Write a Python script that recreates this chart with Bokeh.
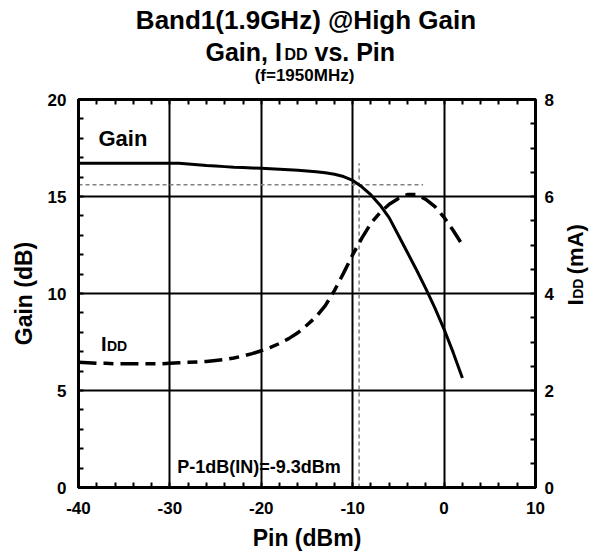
import math
from bokeh.plotting import figure
from bokeh.layouts import column, row
from bokeh.models import Range1d, LinearAxis, Label, FixedTicker
from bokeh.core.properties import value
from bokeh.embed import file_html
from bokeh.resources import INLINE

# ---------------- data ----------------
pin = list(range(-40, 3))
gain = [16.72, 16.72, 16.72, 16.72, 16.72, 16.72, 16.72, 16.72, 16.72, 16.72,
        16.72, 16.71, 16.68, 16.64, 16.60, 16.57, 16.54, 16.51, 16.49, 16.47,
        16.45, 16.43, 16.41, 16.38, 16.35, 16.32, 16.27, 16.22, 16.15, 16.03,
        15.83, 15.50, 15.08, 14.55, 13.90, 13.00, 12.10, 11.20, 10.25, 9.25,
        8.15, 6.95, 5.65]
idd = [2.58, 2.57, 2.56, 2.56, 2.55, 2.55, 2.55, 2.55, 2.55, 2.55,
       2.56, 2.57, 2.58, 2.59, 2.60, 2.62, 2.64, 2.67, 2.71, 2.76,
       2.82, 2.89, 2.97, 3.07, 3.19, 3.35, 3.52, 3.75, 4.06, 4.42,
       4.80, 5.14, 5.45, 5.67, 5.84, 5.96, 6.04, 6.04, 5.94, 5.79,
       5.57, 5.30, 5.00]

p1db_pin = -9.3          # P-1dB input point (dBm)
p1db_gain = 15.6         # gain level at P-1dB (dB)
linear_gain = 16.72
hline_end = -2.3

x_ticks = [-40, -30, -20, -10, 0, 10]
y_ticks = [0, 5, 10, 15, 20]
y2_ticks = [0, 2, 4, 6, 8]

FONT = "Liberation Sans"
TOP_H = 85          # height of the title strip
SIDE_W = 52         # width of the right label strip
FRAME_TOP = 99
K = 0.3             # baseline correction (fraction of font size)

def fs(n):
    return "%dpx" % n

# ---------------- title strip ----------------
t = figure(width=611, height=TOP_H, x_range=Range1d(0, 611),
           y_range=Range1d(TOP_H, 0), output_backend="svg",
           toolbar_location=None, min_border=0, outline_line_color=None,
           background_fill_color="white", border_fill_color="white")
t.axis.visible = False
t.grid.visible = False

def ttext(fig, text, x, y, size, align="left", angle=0.0):
    if angle == 0.0:
        y = y - K * size
    else:
        x = x - K * size
    fig.text(x=[x], y=[y], text=[text], text_font=value(FONT),
             text_font_style="bold", text_font_size=fs(size),
             text_color="black", text_align=align,
             text_baseline="alphabetic", angle=angle)

ttext(t, "Band1(1.9GHz) @High Gain", 305.5, 27, 26, align="center")
ttext(t, "Gain, I", 205, 59, 25)
ttext(t, "DD", 284, 59, 16)
ttext(t, "vs. Pin", 314, 59, 25)
ttext(t, "(f=1950MHz)", 304, 80, 17, align="center")

# ---------------- main figure ----------------
p = figure(frame_width=457, frame_height=388,
           x_range=Range1d(-40, 10), y_range=Range1d(0, 20),
           output_backend="svg", toolbar_location=None,
           min_border_left=78, min_border_right=611 - 78 - 457 - SIDE_W,
           min_border_top=FRAME_TOP - TOP_H, min_border_bottom=71,
           background_fill_color="white", border_fill_color="white")
p.extra_y_ranges = {"idd": Range1d(0, 8)}

p.outline_line_color = "black"
p.outline_line_width = 3
p.outline_line_alpha = 1.0

def style_axis(ax, size="17px"):
    ax.axis_line_color = "black"
    ax.axis_line_width = 3
    ax.major_tick_in = 0
    ax.major_tick_out = 0
    ax.minor_tick_in = 5
    ax.minor_tick_out = 0
    ax.minor_tick_line_color = "black"
    ax.minor_tick_line_width = 2
    ax.major_label_text_font = FONT
    ax.major_label_text_font_style = "bold"
    ax.major_label_text_font_size = size
    ax.major_label_text_color = "black"
    ax.axis_label_text_font = FONT
    ax.axis_label_text_font_style = "bold"
    ax.axis_label_text_font_size = "23px"
    ax.axis_label_text_color = "black"

xt = FixedTicker(ticks=x_ticks, minor_ticks=list(range(-40, 11, 2)))
yt = FixedTicker(ticks=y_ticks, minor_ticks=list(range(0, 21)))
y2t = FixedTicker(ticks=y2_ticks, minor_ticks=[i * 0.5 for i in range(17)])

xa = p.xaxis[0]
xa.ticker = xt
xa.axis_label = "Pin (dBm)"
style_axis(xa)
xa.major_label_overrides = {tk: str(tk) for tk in x_ticks}
xa.major_label_standoff = 14
xa.axis_label_standoff = 8

ya = p.yaxis[0]
ya.ticker = yt
ya.axis_label = "Gain (dB)"
style_axis(ya)
ya.major_label_standoff = 12
ya.axis_label_standoff = 8

ra = LinearAxis(y_range_name="idd", ticker=y2t)
style_axis(ra)
ra.major_label_standoff = 9
p.add_layout(ra, "right")

ta = LinearAxis(ticker=xt)
style_axis(ta, size="0px")
ta.major_label_text_color = None
ta.major_label_standoff = 0
p.add_layout(ta, "above")

p.xgrid.ticker = xt
p.ygrid.ticker = yt
for g in (p.xgrid[0], p.ygrid[0]):
    g.grid_line_color = "black"
    g.grid_line_width = 2
    g.grid_line_alpha = 1.0

# reference lines
p.segment(x0=[-40], y0=[p1db_gain], x1=[hline_end], y1=[p1db_gain],
          line_color="#808080", line_width=1.5, line_dash="4 3")
p.segment(x0=[p1db_pin], y0=[0], x1=[p1db_pin], y1=[linear_gain],
          line_color="#808080", line_width=1.5, line_dash="4 3")

# curves
p.line(pin, gain, line_color="black", line_width=3)
p.line(pin, idd, y_range_name="idd", line_color="black", line_width=3.5,
       line_dash="18 7 10 7")

# in-plot labels
def dx(px):
    return -40 + (px - 78) * 50.0 / 457.0

def dy(py):
    return (487 - py) * 20.0 / 388.0

def lab(text, px, py, size):
    p.add_layout(Label(x=dx(px), y=dy(py - K * size), text=text,
                       text_font=FONT, text_font_style="bold",
                       text_font_size=fs(size), text_color="black",
                       text_align="left", text_baseline="alphabetic"))

lab("Gain", 98, 145, 22)
lab("I", 100.5, 349.5, 20)
lab("DD", 106.5, 349.5, 14)
lab("P-1dB(IN)=-9.3dBm", 176.7, 472, 18)

# ---------------- right label strip ----------------
side_h = 558 - TOP_H
s = figure(width=SIDE_W, height=side_h, x_range=Range1d(0, SIDE_W),
           y_range=Range1d(side_h, 0), output_backend="svg",
           toolbar_location=None, min_border=0, outline_line_color=None,
           background_fill_color="white", border_fill_color="white")
s.axis.visible = False
s.grid.visible = False
ang = math.pi / 2
sx = 582 - (611 - SIDE_W)
ttext(s, "I", sx, 336 - TOP_H, 22, angle=ang)
ttext(s, "DD", sx, 328 - TOP_H, 14, angle=ang)
ttext(s, "(mA)", sx, 298 - TOP_H, 22, angle=ang)

layout = column(t, row(p, s, spacing=0), spacing=0)
open("out.html", "w").write(file_html(layout, INLINE))
